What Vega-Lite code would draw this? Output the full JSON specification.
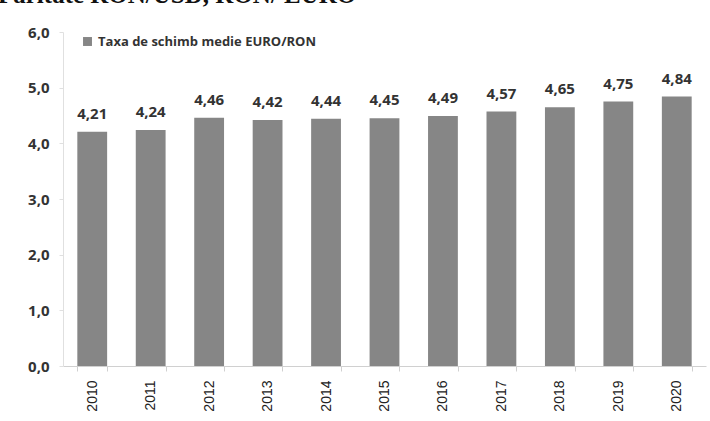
{
  "$schema": "https://vega.github.io/schema/vega-lite/v6.json",
  "width": 643,
  "height": 334,
  "autosize": {"type": "none"},
  "padding": {"left": 63, "top": 32, "right": 4, "bottom": 55},
  "background": "white",
  "title": {
    "text": "Paritate RON/USD, RON/ EURO",
    "anchor": "start",
    "frame": "group",
    "font": "Liberation Serif",
    "fontSize": 25,
    "fontWeight": "bold",
    "color": "#111111",
    "dx": -65,
    "dy": -17,
    "offset": 0
  },
  "config": {
    "locale": {"number": {"decimal": ",", "thousands": ".", "grouping": [3], "currency": ["", ""]}},
    "view": {"stroke": null},
    "font": "Open Sans"
  },
  "data": {
    "values": [
      {"an": "2010", "serie": "Taxa de schimb medie EURO/RON", "valoare": 4.21},
      {"an": "2011", "serie": "Taxa de schimb medie EURO/RON", "valoare": 4.24},
      {"an": "2012", "serie": "Taxa de schimb medie EURO/RON", "valoare": 4.46},
      {"an": "2013", "serie": "Taxa de schimb medie EURO/RON", "valoare": 4.42},
      {"an": "2014", "serie": "Taxa de schimb medie EURO/RON", "valoare": 4.44},
      {"an": "2015", "serie": "Taxa de schimb medie EURO/RON", "valoare": 4.45},
      {"an": "2016", "serie": "Taxa de schimb medie EURO/RON", "valoare": 4.49},
      {"an": "2017", "serie": "Taxa de schimb medie EURO/RON", "valoare": 4.57},
      {"an": "2018", "serie": "Taxa de schimb medie EURO/RON", "valoare": 4.65},
      {"an": "2019", "serie": "Taxa de schimb medie EURO/RON", "valoare": 4.75},
      {"an": "2020", "serie": "Taxa de schimb medie EURO/RON", "valoare": 4.84}
    ]
  },
  "encoding": {
    "x": {
      "field": "an",
      "type": "ordinal",
      "title": null,
      "scale": {"paddingInner": 0.49, "paddingOuter": 0.245},
      "axis": {
        "labelAngle": -90,
        "labelAlign": "right",
        "labelBaseline": "middle",
        "labelFont": "Liberation Sans",
        "labelFontSize": 14,
        "labelColor": "#222222",
        "labelPadding": 9,
        "domainColor": "#d0d0d0",
        "tickColor": "#d0d0d0",
        "tickBand": "extent",
        "tickSize": 5
      }
    },
    "y": {
      "field": "valoare",
      "type": "quantitative",
      "title": null,
      "scale": {"domain": [0, 6], "nice": false},
      "axis": {
        "values": [0, 1, 2, 3, 4, 5, 6],
        "format": ".1f",
        "grid": false,
        "labelFont": "Open Sans",
        "labelFontWeight": "bold",
        "labelFontSize": 15,
        "labelColor": "#333333",
        "labelPadding": 10,
        "domainColor": "#e0e0e0",
        "tickColor": "#e0e0e0",
        "tickSize": 4
      }
    }
  },
  "layer": [
    {
      "mark": {"type": "bar", "color": "#868686"},
      "encoding": {
        "color": {
          "field": "serie",
          "type": "nominal",
          "scale": {"range": ["#868686"]},
          "legend": {
            "title": null,
            "orient": "none",
            "legendX": 18,
            "legendY": 3,
            "symbolType": "square",
            "symbolSize": 80,
            "labelFont": "Open Sans",
            "labelFontWeight": "bold",
            "labelFontSize": 13,
            "labelColor": "#333333",
            "labelOffset": 4,
            "labelLimit": 0
          }
        }
      }
    },
    {
      "mark": {
        "type": "text",
        "baseline": "bottom",
        "dy": -10,
        "font": "Open Sans",
        "fontWeight": "bold",
        "fontSize": 15,
        "color": "#333333"
      },
      "encoding": {
        "text": {"field": "valoare", "type": "quantitative", "format": ".2f"}
      }
    }
  ]
}
